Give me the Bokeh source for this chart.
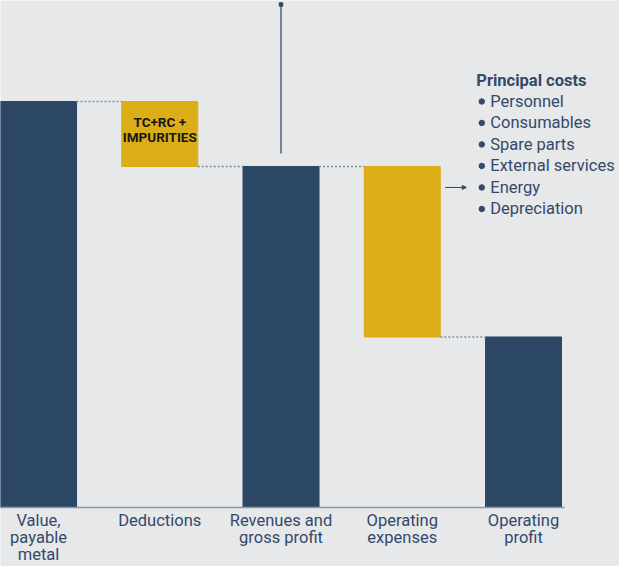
from bokeh.plotting import figure
from bokeh.models import Range1d, ColumnDataSource, Arrow, NormalHead
from bokeh.core.properties import value
from bokeh.embed import file_html
from bokeh.resources import INLINE

# ---- data ----
categories = ["Value,\npayable\nmetal", "Deductions", "Revenues and\ngross profit",
              "Operating\nexpenses", "Operating\nprofit"]
amounts = [100, -16, 84, -42, 42]
kinds = ["total", "delta", "total", "delta", "total"]
deduction_note = "TC+RC +\nIMPURITIES"
cost_title = "Principal costs"
cost_items = ["Personnel", "Consumables", "Spare parts", "External services",
              "Energy", "Depreciation"]

# ---- styles ----
NAVY = "#2d4766"
GOLD = "#dbad17"
BG = "#e6e8ea"
TEXT = "#34496a"
DOT = "#8190a4"
FONT = "Roboto"
BAR_W = 0.627
PX_X = 121.25   # pixels per category step
PX_Y = 4.06     # pixels per value unit

# waterfall geometry from the data
xs, tops, bottoms, colors, levels = [], [], [], [], []
running = 0
for i, (a, k) in enumerate(zip(amounts, kinds)):
    xs.append(i)
    if k == "total":
        bottoms.append(0)
        tops.append(a)
        running = a
        colors.append(NAVY)
    else:
        tops.append(running)
        bottoms.append(running + a)
        running = running + a
        colors.append(GOLD)
    levels.append(running)

W, H = 619, 566
base_px = 507           # pixel row of the zero line (from top)
x0 = -BAR_W / 2
y_top = base_px / PX_Y
y_bot = -(H - base_px) / PX_Y
p = figure(width=W, height=H, output_backend="svg", toolbar_location=None,
           x_range=Range1d(x0, x0 + W / PX_X),
           y_range=Range1d(y_bot, y_top),
           min_border=0)
p.background_fill_color = BG
p.border_fill_color = BG
p.outline_line_color = None
p.grid.visible = False
p.axis.visible = False

src = ColumnDataSource(dict(x=xs, top=tops, bottom=bottoms, color=colors))
p.vbar(x="x", top="top", bottom="bottom", width=BAR_W, color="color", source=src)

# connector lines
cx0 = [xs[i] + BAR_W / 2 for i in range(len(xs) - 1)]
cx1 = [xs[i + 1] - BAR_W / 2 for i in range(len(xs) - 1)]
cy = [levels[i] for i in range(len(xs) - 1)]
p.segment(x0=cx0, y0=cy, x1=cx1, y1=cy, line_color=DOT, line_width=1.5, line_dash="2 2")

# baseline
p.segment(x0=[x0], y0=[0], x1=[xs[-1] + BAR_W / 2 + 3 / PX_X], y1=[0],
          line_color="#8a97a8", line_width=1.5)

# category labels under the bars
p.text(x=xs, y=[0] * len(xs), text=categories, y_offset=3,
       text_font=value(FONT), text_font_size="16.5px", text_color=TEXT,
       text_align="center", text_baseline="top", text_line_height=0.92)

# deduction note
p.text(x=[xs[1]], y=[(tops[1] + bottoms[1]) / 2], text=[deduction_note],
       text_font=value(FONT), text_font_style="bold", text_font_size="13.5px",
       text_color="#161616", text_align="center", text_baseline="middle",
       text_line_height=0.98, y_offset=-4.5)

# upward arrow above revenues
arrow_top = y_top - 4 / PX_Y
p.segment(x0=[xs[2]], y0=[tops[2] + 13 / PX_Y], x1=[xs[2]], y1=[arrow_top],
          line_color="#4e627d", line_width=1.5)
p.scatter(x=[xs[2]], y=[arrow_top], marker="square", size=3.5, color=NAVY)

# legend of principal costs
lx = xs[3] + BAR_W / 2 + 36 / PX_X
ly = tops[3] + 86 / PX_Y
p.text(x=[lx], y=[ly], text=[cost_title], text_font=value(FONT), text_font_style="bold",
       text_font_size="16.5px", text_color=TEXT, text_baseline="middle")
step = 21.5
item_y = [ly - (21 + step * k) / PX_Y for k in range(len(cost_items))]
p.scatter(x=[lx + 5.5 / PX_X] * len(cost_items), y=item_y, marker="circle", size=5.5,
          color=TEXT)
p.text(x=[lx] * len(cost_items), y=item_y, text=cost_items, x_offset=14,
       text_font=value(FONT), text_font_size="16.5px",
       text_color=TEXT, text_baseline="middle")

# small arrow to Energy
ey = item_y[cost_items.index("Energy")]
p.add_layout(Arrow(end=NormalHead(size=4, line_color=NAVY, fill_color=NAVY),
                   x_start=xs[3] + BAR_W / 2 + 5 / PX_X, y_start=ey,
                   x_end=xs[3] + BAR_W / 2 + 26 / PX_X, y_end=ey,
                   line_color=NAVY, line_width=1))

open("out.html", "w").write(file_html(p, INLINE))
